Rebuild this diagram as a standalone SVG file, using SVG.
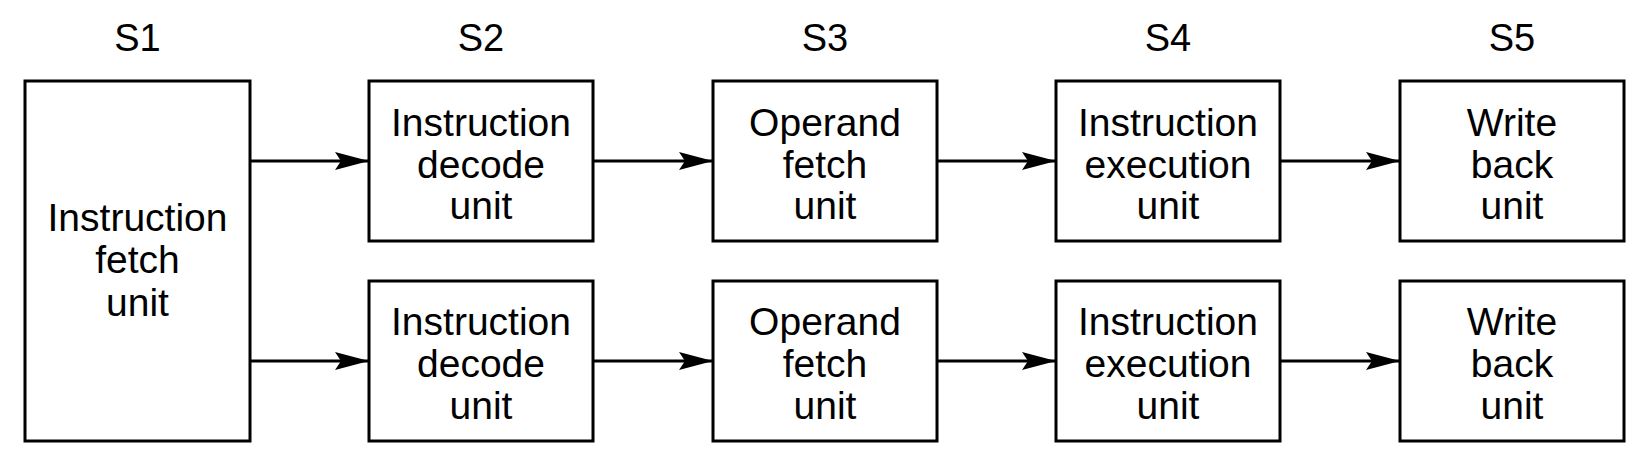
<svg xmlns="http://www.w3.org/2000/svg" width="1648" height="466" viewBox="0 0 1648 466">
  <style>
    .box { fill: #ffffff; stroke: #000000; stroke-width: 3; }
    .lbl { font-family: "Liberation Sans", Arial, sans-serif; font-size: 39px; fill: #000000; text-anchor: middle; }
    .stage { font-family: "Liberation Sans", Arial, sans-serif; font-size: 38px; fill: #000000; text-anchor: middle; }
    .conn { stroke: #000000; stroke-width: 3; fill: none; marker-end: url(#arrow); }
  </style>
  <defs>
    <marker id="arrow" markerUnits="userSpaceOnUse" markerWidth="40" markerHeight="24" refX="36" refY="12" orient="auto" overflow="visible">
      <path d="M36,12 L2,3 L8,12 L2,21 Z" fill="#000000"/>
    </marker>
  </defs>
  <rect width="1648" height="466" fill="#ffffff"/>

  <g id="stage-labels">
    <text class="stage" x="137.5" y="51">S1</text>
    <text class="stage" x="481" y="51">S2</text>
    <text class="stage" x="825" y="51">S3</text>
    <text class="stage" x="1168" y="51">S4</text>
    <text class="stage" x="1512" y="51">S5</text>
  </g>

  <g id="connectors">
    <line class="conn" x1="250" y1="161" x2="369" y2="161"/>
    <line class="conn" x1="593" y1="161" x2="713" y2="161"/>
    <line class="conn" x1="937" y1="161" x2="1056" y2="161"/>
    <line class="conn" x1="1280" y1="161" x2="1400" y2="161"/>
    <line class="conn" x1="250" y1="361" x2="369" y2="361"/>
    <line class="conn" x1="593" y1="361" x2="713" y2="361"/>
    <line class="conn" x1="937" y1="361" x2="1056" y2="361"/>
    <line class="conn" x1="1280" y1="361" x2="1400" y2="361"/>
  </g>

  <g id="fetch">
    <rect class="box" x="25" y="81" width="225" height="360"/>
    <text class="lbl" x="137.5" y="231">Instruction</text>
    <text class="lbl" x="137.5" y="273">fetch</text>
    <text class="lbl" x="137.5" y="316">unit</text>
  </g>

  <g id="decode1">
    <rect class="box" x="369" y="81" width="224" height="160"/>
    <text class="lbl" x="481" y="136">Instruction</text>
    <text class="lbl" x="481" y="177.5">decode</text>
    <text class="lbl" x="481" y="219">unit</text>
  </g>
  <g id="operand1">
    <rect class="box" x="713" y="81" width="224" height="160"/>
    <text class="lbl" x="825" y="136">Operand</text>
    <text class="lbl" x="825" y="177.5">fetch</text>
    <text class="lbl" x="825" y="219">unit</text>
  </g>
  <g id="exec1">
    <rect class="box" x="1056" y="81" width="224" height="160"/>
    <text class="lbl" x="1168" y="136">Instruction</text>
    <text class="lbl" x="1168" y="177.5">execution</text>
    <text class="lbl" x="1168" y="219">unit</text>
  </g>
  <g id="write1">
    <rect class="box" x="1400" y="81" width="224" height="160"/>
    <text class="lbl" x="1512" y="136">Write</text>
    <text class="lbl" x="1512" y="177.5">back</text>
    <text class="lbl" x="1512" y="219">unit</text>
  </g>

  <g id="decode2">
    <rect class="box" x="369" y="281" width="224" height="160"/>
    <text class="lbl" x="481" y="335">Instruction</text>
    <text class="lbl" x="481" y="377">decode</text>
    <text class="lbl" x="481" y="418.5">unit</text>
  </g>
  <g id="operand2">
    <rect class="box" x="713" y="281" width="224" height="160"/>
    <text class="lbl" x="825" y="335">Operand</text>
    <text class="lbl" x="825" y="377">fetch</text>
    <text class="lbl" x="825" y="418.5">unit</text>
  </g>
  <g id="exec2">
    <rect class="box" x="1056" y="281" width="224" height="160"/>
    <text class="lbl" x="1168" y="335">Instruction</text>
    <text class="lbl" x="1168" y="377">execution</text>
    <text class="lbl" x="1168" y="418.5">unit</text>
  </g>
  <g id="write2">
    <rect class="box" x="1400" y="281" width="224" height="160"/>
    <text class="lbl" x="1512" y="335">Write</text>
    <text class="lbl" x="1512" y="377">back</text>
    <text class="lbl" x="1512" y="418.5">unit</text>
  </g>
</svg>
